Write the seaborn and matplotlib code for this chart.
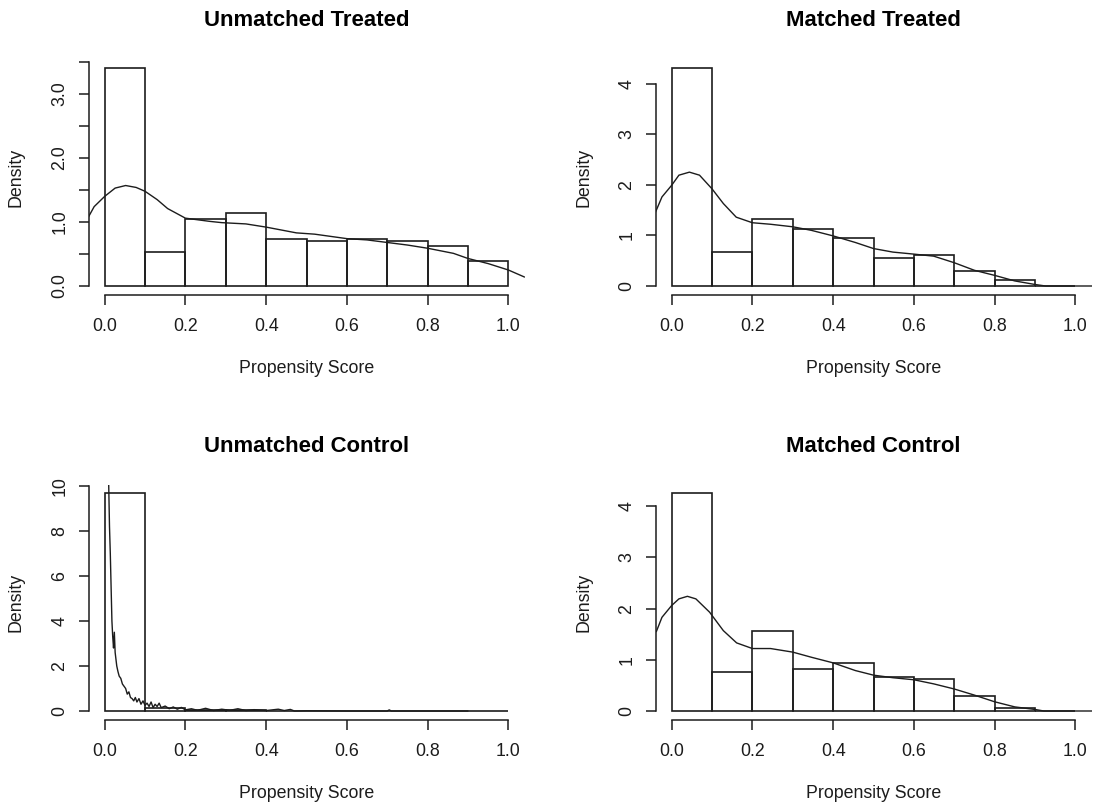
import numpy as np
import matplotlib
matplotlib.use("Agg")
import matplotlib.pyplot as plt
import seaborn as sns

# histogram bins (shared) and densities
bin_edges = [0.0, 0.1, 0.2, 0.3, 0.4, 0.5, 0.6, 0.7, 0.8, 0.9, 1.0]

ut_heights = [3.40, 0.53, 1.05, 1.14, 0.74, 0.70, 0.74, 0.70, 0.63, 0.39]
mt_heights = [4.30, 0.68, 1.32, 1.12, 0.94, 0.56, 0.62, 0.30, 0.12, 0.0]
uc_heights = [9.67, 0.14, 0.06, 0.03, 0.02, 0.01, 0.005, 0.005, 0.0, 0.0]
mc_heights = [4.25, 0.77, 1.57, 0.82, 0.94, 0.67, 0.62, 0.30, 0.06, 0.0]

# kernel density curves
ut_dens_x = [-0.04, -0.026, 0.0, 0.026, 0.052, 0.078, 0.10, 0.13, 0.156, 0.20, 0.26, 0.29,
             0.35, 0.40, 0.475, 0.52, 0.60, 0.65, 0.70, 0.75, 0.80, 0.864, 0.90, 0.95, 1.0, 1.04]
ut_dens_y = [1.08, 1.24, 1.40, 1.53, 1.57, 1.54, 1.48, 1.35, 1.21, 1.06, 1.01, 0.99,
             0.97, 0.92, 0.83, 0.81, 0.74, 0.72, 0.68, 0.64, 0.59, 0.51, 0.43, 0.35, 0.25, 0.14]

mt_dens_x = [-0.04, -0.024, 0.0, 0.018, 0.044, 0.069, 0.10, 0.128, 0.16, 0.20, 0.245, 0.30,
             0.346, 0.40, 0.455, 0.50, 0.548, 0.60, 0.649, 0.70, 0.75, 0.80, 0.85, 0.90, 0.926, 1.10]
mt_dens_y = [1.46, 1.76, 1.99, 2.19, 2.25, 2.19, 1.92, 1.63, 1.36, 1.25, 1.22, 1.17,
             1.10, 0.99, 0.86, 0.74, 0.67, 0.63, 0.59, 0.46, 0.31, 0.21, 0.10, 0.03, 0.0, 0.0]

uc_dens_x = [0.010, 0.012, 0.014, 0.016, 0.018, 0.020, 0.022, 0.024, 0.026, 0.028,
             0.030, 0.033, 0.036, 0.040, 0.044, 0.048, 0.052, 0.056, 0.060, 0.064,
             0.068, 0.072, 0.076, 0.080, 0.085, 0.090, 0.095, 0.100, 0.105, 0.110,
             0.115, 0.120, 0.125, 0.130, 0.135, 0.140, 0.150, 0.160, 0.170, 0.180,
             0.190, 0.200, 0.215, 0.230, 0.250, 0.270, 0.290, 0.310, 0.330, 0.350,
             0.370, 0.400, 0.430, 0.445, 0.460, 0.470, 0.500, 0.600, 0.700, 0.705,
             0.710, 0.800, 0.900]
uc_dens_y = [10.1, 8.2, 7.0, 5.5, 4.0, 3.3, 2.8, 3.5, 2.6, 2.3,
             2.0, 1.75, 1.55, 1.45, 1.2, 1.1, 1.0, 0.75, 0.85, 0.6,
             0.55, 0.45, 0.6, 0.40, 0.55, 0.30, 0.45, 0.25, 0.35, 0.20,
             0.40, 0.15, 0.30, 0.20, 0.35, 0.15, 0.22, 0.10, 0.18, 0.08,
             0.16, 0.05, 0.10, 0.03, 0.12, 0.02, 0.08, 0.03, 0.10, 0.02,
             0.06, 0.02, 0.08, 0.02, 0.07, 0.0, 0.01, 0.0, 0.0, 0.05,
             0.0, 0.0, 0.0]

mc_dens_x = [-0.038, -0.024, 0.0, 0.018, 0.039, 0.06, 0.094, 0.128, 0.161, 0.20, 0.245, 0.30,
             0.346, 0.40, 0.455, 0.50, 0.548, 0.60, 0.649, 0.70, 0.75, 0.80, 0.85, 0.90, 0.922, 1.10]
mc_dens_y = [1.55, 1.83, 2.06, 2.19, 2.24, 2.19, 1.93, 1.57, 1.33, 1.22, 1.22, 1.15,
             1.05, 0.94, 0.79, 0.70, 0.65, 0.61, 0.53, 0.43, 0.31, 0.18, 0.08, 0.03, 0.0, 0.0]

titles = ["Unmatched Treated", "Matched Treated", "Unmatched Control", "Matched Control"]
x_ticks = [0.0, 0.2, 0.4, 0.6, 0.8, 1.0]

# --------------------------------------- Figure -----------------------------------------
sns.set_style("white")
plt.rcParams['font.family'] = ['Liberation Sans', 'DejaVu Sans']
ink = '#1c1c1c'

fig = plt.figure(figsize=(10.95, 8.07), dpi=100)
W, H = 1095.0, 807.0
pw, ph = 436.0, 235.0          # plot region in pixels
lefts = [88.5, 655.5]
bottoms = [294.7, 719.7]

panels = [
    (ut_heights, ut_dens_x, ut_dens_y, np.arange(0, 3.51, 0.5), ['0.0', '', '1.0', '', '2.0', '', '3.0', '']),
    (mt_heights, mt_dens_x, mt_dens_y, np.arange(0, 4.1, 1), ['0', '1', '2', '3', '4']),
    (uc_heights, uc_dens_x, uc_dens_y, np.arange(0, 10.1, 2), ['0', '2', '4', '6', '8', '10']),
    (mc_heights, mc_dens_x, mc_dens_y, np.arange(0, 4.1, 1), ['0', '1', '2', '3', '4']),
]

centers = (np.array(bin_edges[:-1]) + np.array(bin_edges[1:])) / 2

for i, (heights, dx, dy, yt, ytl) in enumerate(panels):
    row, col = divmod(i, 2)
    ax = fig.add_axes([lefts[col] / W, 1 - bottoms[row] / H, pw / W, ph / H])

    sns.histplot(x=centers, weights=heights, bins=bin_edges, stat='count', fill=False,
                 element='bars', color=ink, linewidth=1.2, ax=ax)
    sns.lineplot(x=dx, y=dy, color=ink, linewidth=1.0, sort=False, estimator=None, ax=ax)

    ymax = max(heights)
    ax.set_xlim(-0.04, 1.04)
    ax.set_ylim(-0.04 * ymax, 1.04 * ymax)

    for s in ['top', 'right']:
        ax.spines[s].set_visible(False)
    for s in ['left', 'bottom']:
        ax.spines[s].set_color(ink)
        ax.spines[s].set_linewidth(1.1)
    ax.spines['bottom'].set_bounds(0, 1)
    ax.spines['left'].set_bounds(yt[0], yt[-1])

    ax.set_xticks(x_ticks)
    ax.set_xticklabels([f'{t:.1f}' for t in x_ticks])
    ax.set_yticks(yt)
    ax.set_yticklabels(ytl)
    ax.tick_params(axis='both', direction='out', length=7.5, width=1.1, color=ink,
                   labelsize=12.8, labelcolor=ink, bottom=True, left=True)
    ax.tick_params(axis='x', pad=9)
    ax.tick_params(axis='y', pad=7, labelrotation=90)
    for lab in ax.get_yticklabels():
        lab.set_va('center')

    ax.set_xlabel('Propensity Score', fontsize=12.8, color=ink, va='center')
    ax.xaxis.set_label_coords(0.5, -74.3 / ph)
    ax.set_ylabel('Density', fontsize=12.8, color=ink, va='center')
    ax.yaxis.set_label_coords(-72 / pw, 0.5)
    ax.set_title(titles[i], fontsize=15.9, fontweight='bold', color='black',
                 y=1 + 38.7 / ph, va='center', pad=0)

plt.savefig("out.png", dpi=100)
